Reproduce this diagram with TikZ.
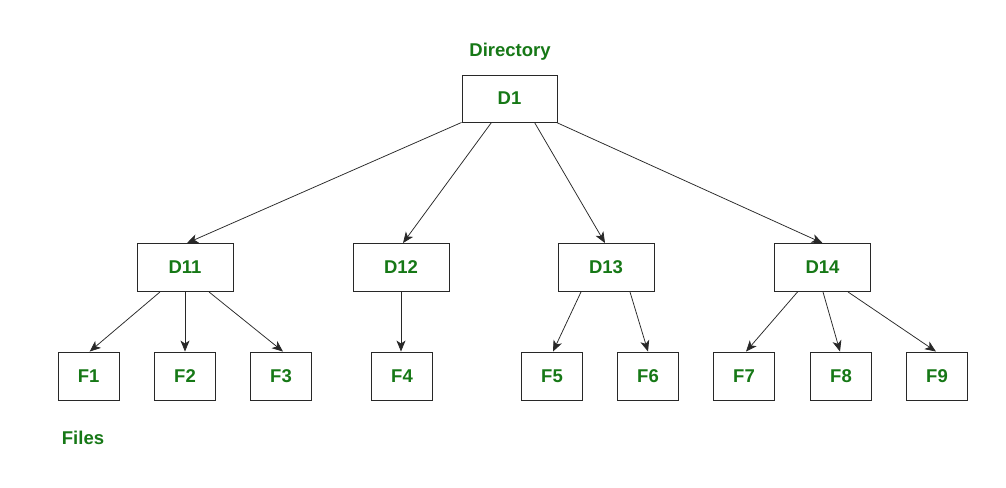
\documentclass[tikz,border=0pt]{standalone}
\usepackage{fontspec}
\setmainfont{Liberation Sans}
\usetikzlibrary{arrows.meta}
\definecolor{txtgreen}{RGB}{22,120,22}
\definecolor{edge}{RGB}{40,40,40}
\begin{document}
\begin{tikzpicture}[x=1pt,y=-1pt,
  lbl/.style={text=txtgreen,font=\fontsize{18.5}{22}\selectfont\bfseries},
  dbox/.style={draw=edge,line width=0.9pt,minimum width=96pt,minimum height=48pt,inner sep=0pt,lbl},
  fbox/.style={draw=edge,line width=0.9pt,minimum width=61pt,minimum height=48pt,inner sep=0pt,lbl},
  conn/.style={draw=edge,line width=0.75pt,-{Stealth[length=11pt,width=9pt,inset=3pt]}}]
\useasboundingbox (0,0) rectangle (1006,487);
\fill[white] (0,0) rectangle (1006,487);
\node[lbl] (dirlbl) at (510,52) {Directory};
\node[lbl] (fileslbl) at (83,438) {Files};
\node[dbox,minimum width=95pt,minimum height=47pt] (D1) at (509.5,98.5) {D1};
\node[dbox] (D11) at (185,267.5) {D11};
\node[dbox] (D12) at (401,267.5) {D12};
\node[dbox] (D13) at (606,267.5) {D13};
\node[dbox] (D14) at (822.5,267.5) {D14};
\node[fbox] (F1) at (88.7,376) {F1};
\node[fbox] (F2) at (185,376) {F2};
\node[fbox] (F3) at (281,376) {F3};
\node[fbox] (F4) at (402,376) {F4};
\node[fbox] (F5) at (552,376) {F5};
\node[fbox] (F6) at (648,376) {F6};
\node[fbox] (F7) at (744,376) {F7};
\node[fbox] (F8) at (841,376) {F8};
\node[fbox] (F9) at (937,376) {F9};
% D1 to directories
\draw[conn] ([xshift=0pt]D1.south west) -- ([xshift=2pt]D11.north);
\draw[conn] ([xshift=-18pt]D1.south) -- ([xshift=2pt]D12.north);
\draw[conn] ([xshift=25pt]D1.south) -- ([xshift=-1pt]D13.north);
\draw[conn] ([xshift=-1pt]D1.south east) -- ([xshift=0pt]D14.north);
% D11
\draw[conn] ([xshift=-25pt]D11.south) -- ([xshift=1pt]F1.north);
\draw[conn] (D11.south) -- (F2.north);
\draw[conn] ([xshift=24pt]D11.south) -- ([xshift=2pt]F3.north);
% D12
\draw[conn] (D12.south) -- ([xshift=-1pt]F4.north);
% D13
\draw[conn] ([xshift=-25pt]D13.south) -- ([xshift=1pt]F5.north);
\draw[conn] ([xshift=24pt]D13.south) -- (F6.north);
% D14
\draw[conn] ([xshift=-25pt]D14.south) -- ([xshift=2pt]F7.north);
\draw[conn] ([xshift=0.5pt]D14.south) -- ([xshift=-1pt]F8.north);
\draw[conn] ([xshift=25.5pt]D14.south) -- ([xshift=-1pt]F9.north);
\end{tikzpicture}
\end{document}
